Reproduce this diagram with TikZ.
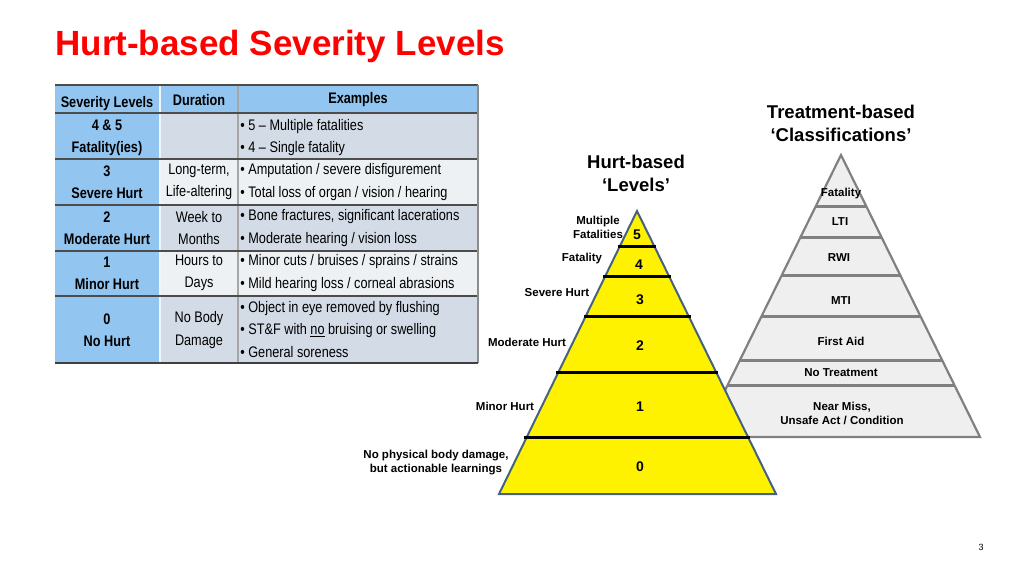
\documentclass[tikz,border=0pt]{standalone}
\usepackage{fontspec}
\setmainfont{Liberation Sans}
\newfontfamily\narrowfont[FakeStretch=0.83]{Liberation Sans}
\usetikzlibrary{calc,positioning}

\definecolor{titlered}{HTML}{FF0000}
\definecolor{cellblue}{HTML}{92C5F0}
\definecolor{cellgrey}{HTML}{D3DBE6}
\definecolor{celllight}{HTML}{EEF1F4}
\definecolor{pyredge}{HTML}{46627F}
\definecolor{pyrgrey}{HTML}{EFEFEF}
\definecolor{pyrline}{HTML}{808080}

\begin{document}
\begin{tikzpicture}[x=1pt, y=-1pt, thick,
    tbl/.style = {font=\narrowfont\fontsize{15.3}{22.5}\selectfont, align=center, inner sep=0pt},
    tblbold/.style = {tbl, font=\narrowfont\fontsize{15.3}{22}\selectfont\bfseries},
    tblleft/.style = {tbl, align=left, anchor=west},
    lbl/.style = {font=\fontsize{11.5}{14}\selectfont\bfseries, align=center, inner sep=0pt},
    num/.style = {font=\fontsize{14}{16}\selectfont\bfseries, inner sep=0pt},
    head/.style = {font=\fontsize{18.5}{23}\selectfont\bfseries, align=center, inner sep=0pt}]
    \useasboundingbox (0,0) rectangle (1024,576);

    % title
    \node[anchor=base west, inner sep=0pt, text=titlered,
          font=\fontsize{35}{40}\selectfont\bfseries] (title) at (55,55) {Hurt-based Severity Levels};

    % table
    \fill[cellblue] (55,85) rectangle (478,113);
    \fill[cellblue] (55,113) rectangle (160,363);
    \fill[cellgrey] (160,113) rectangle (478,159);
    \fill[celllight] (160,159) rectangle (478,205);
    \fill[cellgrey] (160,205) rectangle (478,251);
    \fill[celllight] (160,251) rectangle (478,296);
    \fill[cellgrey] (160,296) rectangle (478,363);
    \draw[white!85!cellblue, line width=1.2pt] (160,85) -- (160,363);
    \draw[black!35, line width=1.2pt] (238,85) -- (238,363);
    \foreach \y in {113,159,205,251,296}
        \draw[black!70, line width=1.2pt] (55,\y) -- (478,\y);
    \draw[black!70, line width=1.2pt] (55,85) -- (478,85);
    \draw[black!45, line width=1.5pt] (478,85) -- (478,363);
    \draw[black!75, line width=2pt] (55,363) -- (478,363);

    \node[tblbold] (h1) at (107,104) {Severity Levels};
    \node[tblbold] (h2) at (199,100) {Duration};
    \node[tblbold] (h3) at (358,100) {Examples};

    \node[tblbold] (lv5) at (107,138) {4 \& 5\\Fatality(ies)};
    \node[tblleft] (ex5) at (240,137.5) {• 5 – Multiple fatalities\\• 4 – Single fatality};

    \node[tblbold] (lv3) at (107,182) {3\\Severe Hurt};
    \node[tbl] (du3) at (199,182) {Long-term,\\Life-altering};
    \node[tblleft] (ex3) at (240,182) {• Amputation / severe disfigurement\\• Total loss of organ / vision / hearing};

    \node[tblbold] (lv2) at (107,228) {2\\Moderate Hurt};
    \node[tbl] (du2) at (199,228) {Week to\\Months};
    \node[tblleft] (ex2) at (240,228) {• Bone fractures, significant lacerations\\• Moderate hearing / vision loss};

    \node[tblbold] (lv1) at (107,273) {1\\Minor Hurt};
    \node[tbl] (du1) at (199,273) {Hours to\\Days};
    \node[tblleft] (ex1) at (240,273) {• Minor cuts / bruises / sprains / strains\\• Mild hearing loss / corneal abrasions};

    \node[tblbold] (lv0) at (107,330) {0\\No Hurt};
    \node[tbl] (du0) at (199,330) {No Body\\Damage};
    \node[tblleft] (ex0) at (240,329.5) {• Object in eye removed by flushing\\• ST\&F with \underline{no} bruising or swelling\\• General soreness};

    % treatment-based pyramid
    \coordinate (gtop) at (841,155);
    \coordinate (gbl) at (702,437);
    \coordinate (gbr) at (980,437);
    \filldraw[fill=pyrgrey, draw=pyrline, line width=2.2pt] (gtop) -- (gbr) -- (gbl) -- cycle;
    \foreach \t in {0.184,0.294,0.429,0.571,0.730,0.816}
        \draw[pyrline, line width=3pt] ($(gtop)!\t!(gbl)$) -- ($(gtop)!\t!(gbr)$);

    \node[head] (thead) at (841,123.5) {Treatment-based\\‘Classifications’};
    \node[lbl] (fat) at (841,194) {Fatality};
    \node[lbl] (lti) at (840,222) {LTI};
    \node[lbl] (rwi) at (839,258) {RWI};
    \node[lbl] (mti) at (841,301) {MTI};
    \node[lbl] (fa) at (841,341) {First Aid};
    \node[lbl] (nt) at (841,373) {No Treatment};
    \node[lbl] (nm) at (842,413) {Near Miss,\\Unsafe Act / Condition};

    % hurt-based pyramid
    \coordinate (ytop) at (637,211);
    \coordinate (ybl) at (499,494);
    \coordinate (ybr) at (776,494);
    \filldraw[fill=yellow, draw=pyredge, line width=2pt] (ytop) -- (ybr) -- (ybl) -- cycle;
    \foreach \t in {0.124,0.233,0.371,0.569,0.802}
        \draw[black, line width=3pt, shorten <=-2pt, shorten >=-2pt] ($(ytop)!\t!(ybl)$) -- ($(ytop)!\t!(ybr)$);

    \node[head] (yhead) at (636,173.5) {Hurt-based\\‘Levels’};
    \node[num] (n5) at (637,235) {5};
    \node[num] (n4) at (639,265) {4};
    \node[num] (n3) at (640,300) {3};
    \node[num] (n2) at (640,346) {2};
    \node[num] (n1) at (640,407) {1};
    \node[num] (n0) at (640,467) {0};

    \node[lbl] (l5) at (598,227) {Multiple\\Fatalities};
    \node[lbl] (l4) at (582,259) {Fatality};
    \node[lbl] (l3) at (557,293) {Severe Hurt};
    \node[lbl] (l2) at (527,342) {Moderate Hurt};
    \node[lbl] (l1) at (505,406) {Minor Hurt};
    \node[lbl] (l0) at (436,462.5) {No physical body damage,\\but actionable learnings};

    \node[font=\fontsize{9}{11}\selectfont, inner sep=0pt] (page) at (981,547) {3};
\end{tikzpicture}
\end{document}
